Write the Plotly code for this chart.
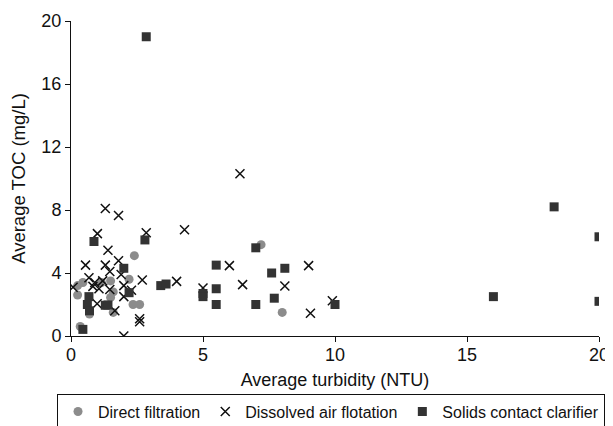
import plotly.graph_objects as go

# Direct filtration
df_x = [0.45, 0.25, 0.25, 0.35, 0.7, 1.15, 1.5, 1.6, 1.5, 1.6, 2.2, 2.35, 2.6, 2.4, 7.2, 8.0]
df_y = [3.4, 3.2, 2.6, 0.6, 1.4, 3.4, 3.5, 2.8, 2.45, 1.5, 3.6, 2.0, 2.0, 5.1, 5.8, 1.5]

# Dissolved air flotation
daf_x = [0.08, 0.55, 0.68, 0.9, 0.83, 1.06, 1.0, 0.99, 1.2, 1.3, 1.3, 1.4, 1.47, 1.47, 1.66, 1.8,
         1.8, 1.9, 2.0, 2.0, 2.0, 2.29, 2.6, 2.6, 2.7, 2.85, 4.0, 4.3, 5.0, 6.0, 6.4, 6.5,
         8.1, 9.0, 9.07, 9.9]
daf_y = [3.1, 4.5, 3.7, 3.4, 3.15, 3.0, 6.5, 2.05, 3.5, 4.5, 8.1, 5.45, 4.1, 2.95, 1.6, 7.65,
         4.78, 3.9, 3.2, 2.5, 0.0, 2.9, 1.1, 0.9, 3.55, 6.55, 3.47, 6.75, 3.05, 4.47, 10.3, 3.26,
         3.17, 4.47, 1.44, 2.24]

# Solids contact clarifier
scc_x = [0.45, 0.68, 0.62, 0.7, 0.87, 1.3, 1.4, 2.0, 2.2, 2.8, 2.85, 3.4, 3.6, 5.0, 5.0, 5.5,
         5.5, 5.5, 7.0, 7.0, 7.6, 7.7, 8.1, 10.0, 16.0, 18.3, 20.0, 20.0]
scc_y = [0.42, 2.5, 2.0, 1.6, 6.0, 1.95, 1.97, 4.3, 2.75, 6.1, 19.0, 3.2, 3.3, 2.7, 2.5, 4.5,
         3.0, 2.0, 5.6, 2.0, 4.0, 2.4, 4.3, 2.0, 2.5, 8.2, 6.3, 2.2]

x_ticks = [0, 5, 10, 15, 20]
y_ticks = [0, 4, 8, 12, 16, 20]

fig = go.Figure()
fig.add_trace(go.Scatter(x=df_x, y=df_y, mode="markers", name="Direct filtration",
                         marker=dict(symbol="circle", size=9, color="#8c8c8c")))
fig.add_trace(go.Scatter(x=daf_x, y=daf_y, mode="markers", name="Dissolved air flotation",
                         marker=dict(symbol="x-thin-open", size=9, color="#111111",
                                     line=dict(width=1.5, color="#111111"))))
fig.add_trace(go.Scatter(x=scc_x, y=scc_y, mode="markers", name="Solids contact clarifier",
                         marker=dict(symbol="square", size=9, color="#333333")))

# page body adds an 8px offset, so the figure is 8px smaller than the window
fig.update_layout(
    width=605, height=418,
    margin=dict(l=63, r=14, t=13, b=90, autoexpand=False),
    plot_bgcolor="white", paper_bgcolor="white",
    font=dict(family="Liberation Sans, Arial, sans-serif", color="#111111", size=18),
    showlegend=True,
    legend=dict(orientation="h", x=-0.0265, xanchor="left", y=-0.183, yanchor="top",
                bordercolor="#111111", borderwidth=1, font=dict(size=16),
                itemwidth=30, tracegroupgap=0, bgcolor="white"),
)
fig.update_xaxes(range=[0, 20], tickvals=x_ticks, showline=True, linecolor="#111111", linewidth=1,
                 ticks="outside", ticklen=5, tickcolor="#111111", showgrid=False, zeroline=False,
                 ticklabelstandoff=-3,
                 title=dict(text="Average turbidity (NTU)", font=dict(size=18), standoff=9),
                 tickfont=dict(size=18))
fig.update_yaxes(range=[0, 20], tickvals=y_ticks, showline=True, linecolor="#111111", linewidth=1,
                 ticks="outside", ticklen=5, tickcolor="#111111", showgrid=False, zeroline=False,
                 title=dict(text="Average TOC (mg/L)", font=dict(size=18.5), standoff=10),
                 tickfont=dict(size=18))

fig.write_html("out.html")
